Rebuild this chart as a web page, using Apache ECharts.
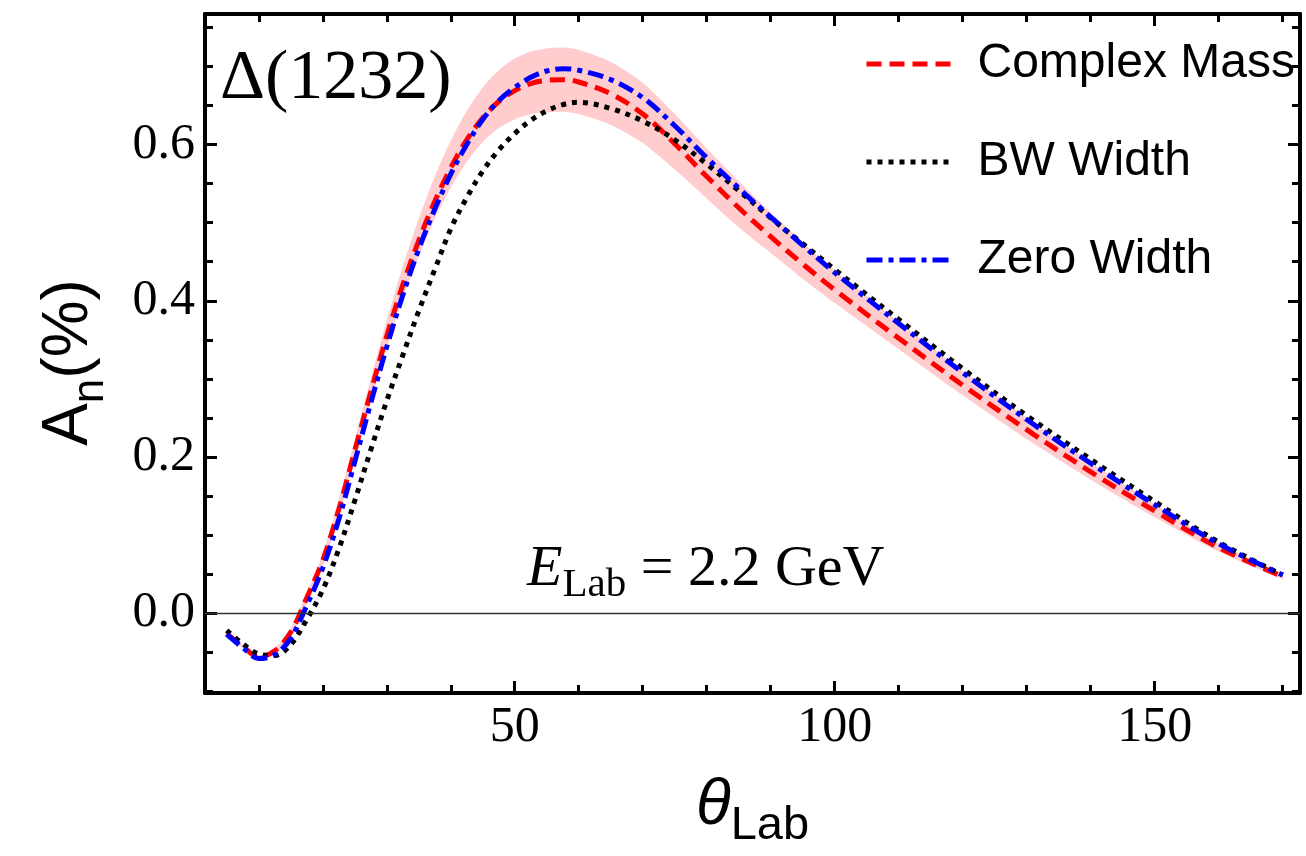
<!DOCTYPE html>
<html><head><meta charset="utf-8">
<script src="https://cdn.jsdelivr.net/npm/echarts@6/dist/echarts.min.js"></script>
<style>html,body{margin:0;padding:0;background:#fff}#c{width:1306px;height:856px}</style>
</head><body><div id="c"></div>
<script>
// ---- data ----
const theta = [5,7.5,10,12.5,15,17.5,20,22.5,25,27.5,30,32.5,35,37.5,40,42.5,45,47.5,50,52.5,55,57.5,60,65,70,75,80,85,90,95,100,110,120,130,140,150,160,170];
const complexMass = [-0.026,-0.042,-0.056,-0.048,-0.024,0.020,0.068,0.133,0.208,0.283,0.355,0.420,0.477,0.527,0.570,0.606,0.634,0.655,0.669,0.678,0.682,0.683,0.680,0.665,0.639,0.601,0.559,0.519,0.482,0.447,0.414,0.352,0.292,0.235,0.181,0.131,0.084,0.047];
const bwWidth = [-0.022,-0.039,-0.052,-0.054,-0.040,-0.008,0.030,0.082,0.144,0.209,0.272,0.330,0.387,0.440,0.492,0.532,0.566,0.593,0.614,0.631,0.643,0.651,0.654,0.646,0.630,0.606,0.575,0.541,0.506,0.473,0.440,0.376,0.313,0.253,0.197,0.143,0.091,0.049];
const zeroWidth = [-0.027,-0.044,-0.058,-0.053,-0.032,0.010,0.058,0.120,0.194,0.269,0.341,0.407,0.466,0.517,0.562,0.600,0.632,0.656,0.673,0.686,0.694,0.697,0.695,0.683,0.660,0.624,0.583,0.544,0.507,0.471,0.436,0.371,0.308,0.248,0.192,0.139,0.089,0.049];
const bandUpper = [-0.024,-0.040,-0.054,-0.045,-0.020,0.026,0.076,0.144,0.222,0.300,0.375,0.444,0.505,0.559,0.605,0.643,0.673,0.695,0.710,0.719,0.723,0.724,0.721,0.706,0.679,0.639,0.595,0.553,0.513,0.475,0.439,0.373,0.310,0.250,0.193,0.140,0.090,0.050];
const bandLower = [-0.028,-0.044,-0.058,-0.052,-0.030,0.013,0.060,0.123,0.196,0.270,0.340,0.403,0.457,0.505,0.545,0.578,0.603,0.621,0.632,0.639,0.641,0.642,0.639,0.625,0.602,0.568,0.531,0.494,0.461,0.428,0.397,0.338,0.279,0.223,0.171,0.123,0.079,0.044];
const xMajorTicks = [50,100,150];
const xMinorTicks = [10,20,30,40,50,60,70,80,90,100,110,120,130,140,150,160,170];
const yMajorTicks = [0,0.2,0.4,0.6];
const yMinorTicks = [-0.1,-0.05,0,0.05,0.1,0.15,0.2,0.25,0.3,0.35,0.4,0.45,0.5,0.55,0.6,0.65,0.7,0.75];
const seriesNames = ['Complex Mass','BW Width','Zero Width'];

const XMIN = 1.6, XMAX = 172.7, YMIN = -0.102, YMAX = 0.767;
const SERIF = '"Liberation Serif","Times New Roman",serif';
const SANS = '"Liberation Sans",Arial,Helvetica,sans-serif';

const pair = (ys) => theta.map((t,i)=>[t, ys[i]]);

function xAx(pos, ticks, len, showLabel, showLine, extra){
  return Object.assign({
    type:'value', position:pos, min:XMIN, max:XMAX, gridIndex:0,
    axisLine:{show:showLine, onZero:false, lineStyle:{color:'#000', width:4}},
    axisTick:{show:true, inside:true, length:len, customValues:ticks, lineStyle:{color:'#000', width:3}},
    axisLabel:{show:showLabel, customValues:xMajorTicks, margin:10, color:'#000', fontFamily:SERIF, fontSize:50, formatter:v=>String(Math.round(v))},
    splitLine:{show:false}
  }, extra||{});
}
function yAx(pos, ticks, len, showLabel, showLine, extra){
  return Object.assign({
    type:'value', position:pos, min:YMIN, max:YMAX, gridIndex:0,
    axisLine:{show:showLine, onZero:false, lineStyle:{color:'#000', width:4}},
    axisTick:{show:true, inside:true, length:len, customValues:ticks, lineStyle:{color:'#000', width:3}},
    axisLabel:{show:showLabel, customValues:yMajorTicks, margin:10, color:'#000', fontFamily:SERIF, fontSize:50, formatter:v=>v.toFixed(1)},
    splitLine:{show:false}
  }, extra||{});
}

const chart = echarts.init(document.getElementById('c'), null, {renderer:'canvas'});
chart.setOption({
  animation:false,
  backgroundColor:'#fff',
  grid:{left:205, right:6, top:14, bottom:163, containLabel:false},
  xAxis:[
    xAx('bottom', xMajorTicks, 12, true, true, {
      name:'{t|θ}{s|Lab}', nameLocation:'middle', nameGap:93,
      nameTextStyle:{rich:{
        t:{fontFamily:SANS, fontStyle:'italic', fontSize:64, lineHeight:64, verticalAlign:'bottom', padding:[0,0,12,0], color:'#000'},
        s:{fontFamily:SANS, fontSize:47, lineHeight:47, verticalAlign:'bottom', color:'#000'}
      }}
    }),
    xAx('bottom', xMinorTicks, 8, false, false),
    xAx('top', xMajorTicks, 12, false, true),
    xAx('top', xMinorTicks, 8, false, false)
  ],
  yAxis:[
    yAx('left', yMajorTicks, 12, true, true, {
      name:'{a|A}{s|n}{a|(%)}', nameLocation:'middle', nameGap:92, nameRotate:90,
      nameTextStyle:{padding:[0,18,0,0], rich:{
        a:{fontFamily:SANS, fontSize:64, lineHeight:64, verticalAlign:'bottom', padding:[0,0,12,0], color:'#000'},
        s:{fontFamily:SANS, fontSize:44, lineHeight:44, verticalAlign:'bottom', color:'#000'}
      }}
    }),
    yAx('left', yMinorTicks, 8, false, false),
    yAx('right', yMajorTicks, 12, false, true),
    yAx('right', yMinorTicks, 8, false, false)
  ],
  legend:{
    data:seriesNames, orient:'vertical', left:859, top:31,
    itemWidth:84, itemHeight:20, itemGap:42, selectedMode:false,
    itemStyle:{opacity:0},
    lineStyle:{width:5},
    textStyle:{fontFamily:SANS, fontSize:48, lineHeight:56, color:'#000', padding:[0,0,0,22]}
  },
  graphic:[
    {type:'text', left:220, top:45, z:100, style:{text:'Δ(1232)', font:'70px '+SERIF, fill:'#000'}},
    {type:'text', left:527, top:541, z:100, style:{
      text:'{e|E}{s|Lab}{r| = 2.2 GeV}',
      rich:{
        e:{fontFamily:SERIF, fontStyle:'italic', fontSize:58, lineHeight:58, verticalAlign:'bottom', padding:[0,0,7,0], fill:'#000'},
        s:{fontFamily:SERIF, fontSize:41, lineHeight:41, verticalAlign:'bottom', fill:'#000'},
        r:{fontFamily:SERIF, fontSize:58, lineHeight:58, verticalAlign:'bottom', padding:[0,0,7,0], fill:'#000'}
      }}}
  ],
  series:[
    {name:'zeroLine', type:'line', data:pair(bandLower), symbol:'none', lineStyle:{opacity:0}, silent:true, z:1,
     markLine:{silent:true, symbol:['none','none'], label:{show:false},
       lineStyle:{color:'#333', width:1.3, type:'solid', opacity:1}, data:[{yAxis:0}]}},
    {name:'band', type:'custom', silent:true, z:1,
     data:[[theta[0], bandLower[0]]],
     renderItem:function(params, api){
       const pts = [];
       for (let i=0;i<theta.length;i++) pts.push(api.coord([theta[i], bandUpper[i]]));
       for (let i=theta.length-1;i>=0;i--) pts.push(api.coord([theta[i], bandLower[i]]));
       return {type:'polygon', shape:{points:pts, smooth:0.25}, style:{fill:'#ffcdcd', stroke:null}, silent:true};
     }},
    {name:'Complex Mass', type:'line', data:pair(complexMass), smooth:0.35, symbol:'none', z:3,
     color:'#ff0000', lineStyle:{color:'#ff0000', width:5, type:[15,8]}},
    {name:'BW Width', type:'line', data:pair(bwWidth), smooth:0.35, symbol:'none', z:3,
     color:'#000000', lineStyle:{color:'#000000', width:5, type:[5,6]}},
    {name:'Zero Width', type:'line', data:pair(zeroWidth), smooth:0.35, symbol:'none', z:3,
     color:'#0000ff', lineStyle:{color:'#0000ff', width:5, type:[16,6,5,6]}}
  ]
});
</script>
</body></html>
